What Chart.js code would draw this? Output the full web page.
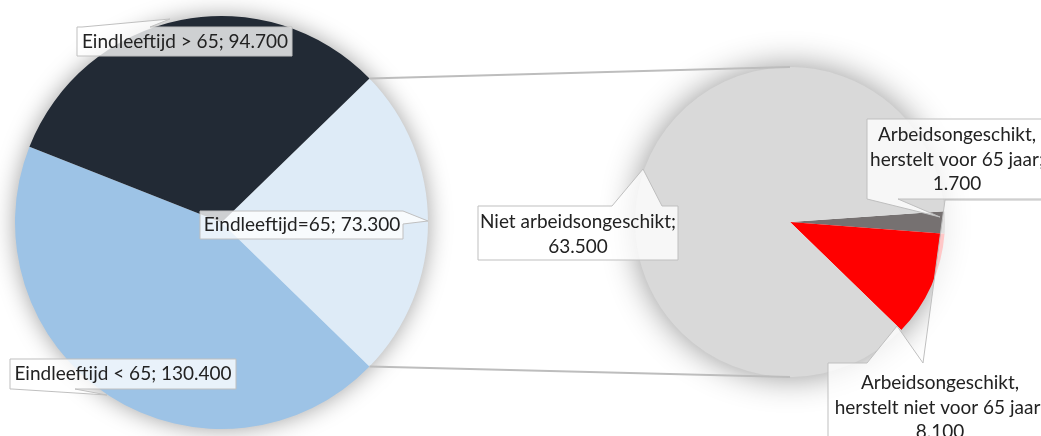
<!DOCTYPE html>
<html>
<head>
<meta charset="utf-8">
<script src="https://cdn.jsdelivr.net/npm/chart.js@4.4.0/dist/chart.umd.min.js"></script>
<style>
  html, body { margin: 0; padding: 0; background: #fff; overflow: hidden; }
  #wrap { position: relative; width: 1041px; height: 436px; }
  #wrap canvas { position: absolute; left: 0; top: 0; width: 1041px; height: 436px; }
</style>
</head>
<body>
<div id="wrap">
  <canvas id="leftPie" width="1041" height="436"></canvas>
  <canvas id="rightPie" width="1041" height="436"></canvas>
</div>
<script>
// Data
const mainLabels = ['Eindleeftijd=65', 'Eindleeftijd < 65', 'Eindleeftijd > 65'];
const mainValues = [73300, 130400, 94700];
const mainColors = ['#DEEBF7', '#9DC3E6', '#222A35'];

const splitLabels = ['Arbeidsongeschikt, herstelt voor 65 jaar', 'Arbeidsongeschikt, herstelt niet voor 65 jaar', 'Niet arbeidsongeschikt'];
const splitValues = [1700, 8100, 63500];
const splitColors = ['#767171', '#FF0000', '#D9D9D9'];

const FONT = '19px Lato, "Open Sans", sans-serif';
const TEXT = '#222222';

function fmt(v) {
  return String(v).replace(/\B(?=(\d{3})+(?!\d))/g, '.');
}

// soft shadow under the whole pie (Excel style)
function pieShadow(blur, alpha) {
  return {
    id: 'pieShadow',
    beforeDatasetsDraw(chart) {
      const arc = chart.getDatasetMeta(0).data[0];
      const ctx = chart.ctx;
      ctx.save();
      ctx.shadowColor = 'rgba(0,0,0,' + alpha + ')';
      ctx.shadowBlur = blur;
      ctx.beginPath();
      ctx.arc(arc.x, arc.y, arc.outerRadius - 1, 0, Math.PI * 2);
      ctx.fillStyle = '#fff';
      ctx.fill();
      ctx.restore();
    }
  };
}

function pieOptions(rotation, padding) {
  return {
    responsive: false,
    animation: false,
    events: [],
    rotation: rotation,
    layout: { padding: padding },
    plugins: { legend: { display: false }, tooltip: { enabled: false } }
  };
}

const totalMain = mainValues.reduce((a, b) => a + b, 0);

const leftChart = new Chart(document.getElementById('leftPie').getContext('2d'), {
  type: 'pie',
  data: {
    labels: mainLabels,
    datasets: [{ data: mainValues, backgroundColor: mainColors, borderWidth: 0, hoverOffset: 0, offset: 0 }]
  },
  // the split slice sits centred on the right-hand side
  options: pieOptions(90 - (mainValues[0] / totalMain) * 180, { left: 15, top: 16, right: 613, bottom: 7 }),
  plugins: [pieShadow(24, 0.4)]
});

function callout(ctx, pts, lines, cx, cy) {
  ctx.save();
  ctx.beginPath();
  ctx.moveTo(pts[0][0], pts[0][1]);
  for (let i = 1; i < pts.length; i++) ctx.lineTo(pts[i][0], pts[i][1]);
  ctx.closePath();
  ctx.fillStyle = 'rgba(255,255,255,0.78)';
  ctx.fill();
  ctx.strokeStyle = '#BFBFBF';
  ctx.lineWidth = 1;
  ctx.stroke();
  ctx.fillStyle = TEXT;
  ctx.font = FONT;
  ctx.textAlign = 'center';
  ctx.textBaseline = 'middle';
  lines.forEach((t, i) => ctx.fillText(t, cx, cy + i * 24.5));
  ctx.restore();
}

const overlay = {
  id: 'overlay',
  afterDraw(chart) {
    const ctx = chart.ctx;
    const a = leftChart.getDatasetMeta(0).data[0];
    const b = chart.getDatasetMeta(0).data[0];

    // connector lines from the split slice to the second pie
    ctx.save();
    ctx.strokeStyle = '#BDBDBD';
    ctx.lineWidth = 2;
    ctx.beginPath();
    ctx.moveTo(a.x + a.outerRadius * Math.cos(a.startAngle), a.y + a.outerRadius * Math.sin(a.startAngle));
    ctx.lineTo(b.x, b.y - b.outerRadius);
    ctx.moveTo(a.x + a.outerRadius * Math.cos(a.endAngle), a.y + a.outerRadius * Math.sin(a.endAngle));
    ctx.lineTo(b.x, b.y + b.outerRadius);
    ctx.stroke();
    ctx.restore();

    // data label callouts
    callout(ctx, [[77, 27], [82, 27], [170, 19], [150, 27], [292, 27], [292, 56], [77, 56]],
      [mainLabels[2] + '; ' + fmt(mainValues[2])], 185, 42);
    callout(ctx, [[200, 211], [403, 211], [428, 221], [403, 224], [403, 239], [200, 239]],
      [mainLabels[0] + '; ' + fmt(mainValues[0])], 302, 225);
    callout(ctx, [[10, 359], [236, 359], [236, 389], [75, 389], [107, 395], [12, 389], [10, 389]],
      [mainLabels[1] + '; ' + fmt(mainValues[1])], 123, 374);

    callout(ctx, [[478, 206], [612, 206], [643, 169], [662, 206], [678, 206], [678, 260], [478, 260]],
      [splitLabels[2] + ';', fmt(splitValues[2])], 578, 222);
    callout(ctx, [[867, 119], [1050, 119], [1050, 199], [898, 199], [940, 217], [867, 199]],
      ['Arbeidsongeschikt,', 'herstelt voor 65 jaar;', fmt(splitValues[0])], 957, 135);
    callout(ctx, [[828, 445], [828, 363], [867, 363], [897, 326], [923, 363], [945, 200], [1050, 200], [1050, 445]],
      ['Arbeidsongeschikt,', 'herstelt niet voor 65 jaar;', fmt(splitValues[1])], 940, 383);
  }
};

const rightChart = new Chart(document.getElementById('rightPie').getContext('2d'), {
  type: 'pie',
  data: {
    labels: splitLabels,
    datasets: [{ data: splitValues, backgroundColor: splitColors, borderWidth: 0, hoverOffset: 0, offset: 0 }]
  },
  options: pieOptions(86, { left: 635, top: 67, right: 96, bottom: 59 }),
  plugins: [pieShadow(34, 0.45), overlay]
});
</script>
</body>
</html>
